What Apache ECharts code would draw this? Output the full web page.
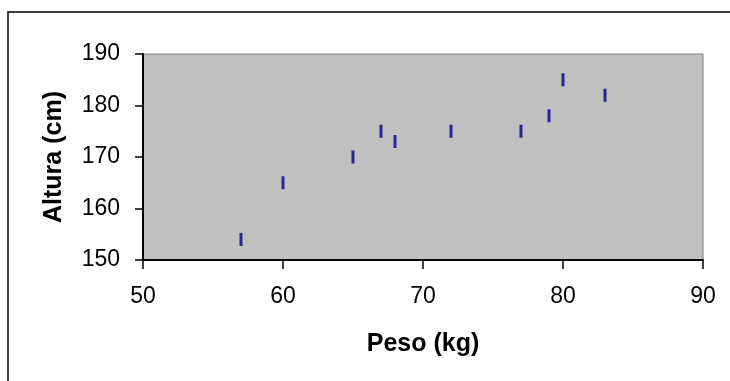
<!DOCTYPE html>
<html>
<head>
<meta charset="utf-8">
<script src="https://cdn.jsdelivr.net/npm/echarts@6/dist/echarts.min.js"></script>
<style>
html,body{margin:0;padding:0;background:#fff;}
#chart{width:730px;height:381px;}
</style>
</head>
<body>
<div id="chart"></div>
<script>
var peso = [57, 60, 65, 67, 68, 72, 77, 79, 80, 83];
var altura = [154, 165, 170, 175, 173, 175, 175, 178, 185, 182];
var xTitle = 'Peso (kg)';
var yTitle = 'Altura (cm)';

var points = peso.map(function (p, i) { return [p, altura[i]]; });
var font = 'Liberation Sans, Arial, sans-serif';

var chart = echarts.init(document.getElementById('chart'), null, {renderer: 'canvas'});
chart.setOption({
  animation: false,
  backgroundColor: '#ffffff',
  graphic: [{
    type: 'rect',
    shape: {x: 8, y: 12, width: 740, height: 400},
    style: {fill: 'none', stroke: '#000', lineWidth: 1.5},
    silent: true
  }],
  grid: {
    left: 143, top: 54, right: 27, bottom: 121,
    show: true, backgroundColor: '#c0c0c0', borderColor: '#808080', borderWidth: 1
  },
  xAxis: {
    type: 'value', min: 50, max: 90, interval: 10,
    name: xTitle, nameLocation: 'middle', nameGap: 72,
    nameTextStyle: {fontFamily: font, fontWeight: 'bold', fontSize: 25, color: '#000'},
    axisLine: {show: true, lineStyle: {color: '#000', width: 2}},
    axisTick: {show: true, inside: false, length: 9, lineStyle: {color: '#000', width: 1.5}},
    axisLabel: {fontFamily: font, fontSize: 23, color: '#000', margin: 25},
    splitLine: {show: false}
  },
  yAxis: {
    type: 'value', min: 150, max: 190, interval: 10,
    name: yTitle, nameLocation: 'middle', nameGap: 76, nameRotate: 90,
    nameTextStyle: {fontFamily: font, fontWeight: 'bold', fontSize: 25, color: '#000'},
    axisLine: {show: true, lineStyle: {color: '#000', width: 2}},
    axisTick: {show: true, inside: false, length: 8, lineStyle: {color: '#000', width: 1.5}},
    axisLabel: {fontFamily: font, fontSize: 23, color: '#000', margin: 23},
    splitLine: {show: false}
  },
  series: [{
    type: 'scatter',
    data: points,
    symbol: 'rect',
    symbolSize: [3, 13],
    itemStyle: {color: '#000080'}
  }]
});
</script>
</body>
</html>
